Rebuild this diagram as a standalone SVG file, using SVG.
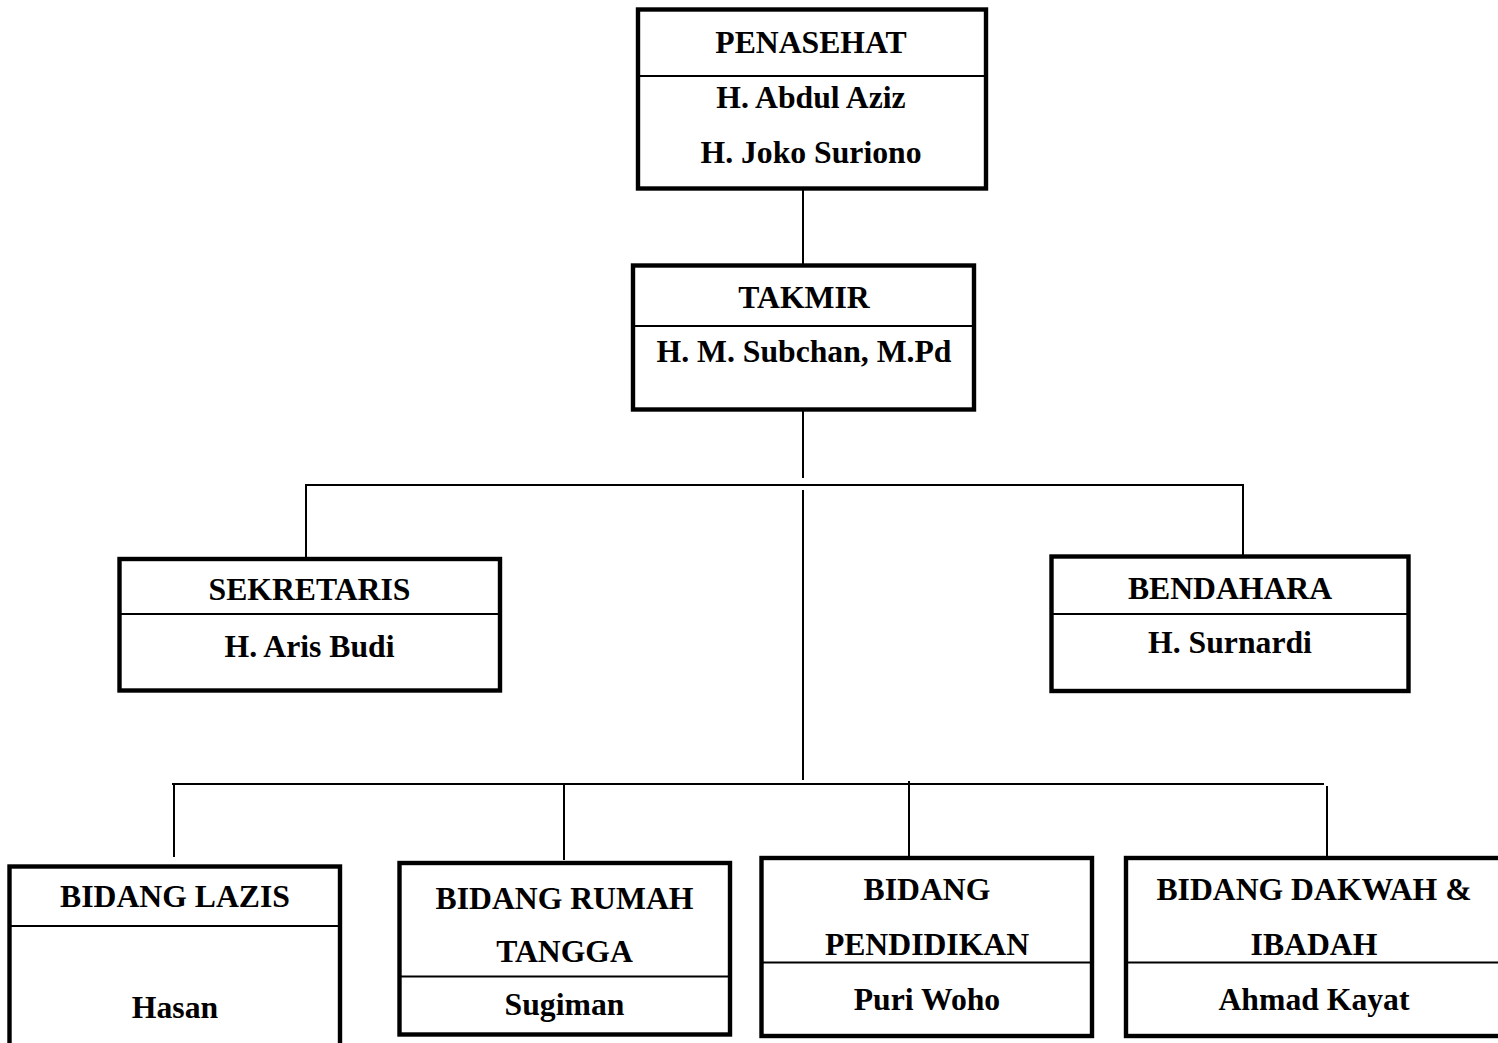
<svg xmlns="http://www.w3.org/2000/svg" width="1498" height="1043" viewBox="0 0 1498 1043">
<style>
.box{fill:#fff;stroke:#000;stroke-width:4.4}
.div{stroke:#000;stroke-width:1.8}
.con line{stroke:#000;stroke-width:2}
text{font-family:"Liberation Serif","Times New Roman",serif;font-weight:bold;font-size:31.7px;fill:#000;text-anchor:middle}
</style>
<rect width="1498" height="1043" fill="#fff"/>
<g id="connectors" class="con">
<line x1="803" y1="190" x2="803" y2="264"/>
<line x1="803" y1="405" x2="803" y2="478"/>
<line x1="305" y1="485" x2="1244" y2="485"/>
<line x1="306" y1="485" x2="306" y2="557"/>
<line x1="1243" y1="485" x2="1243" y2="555"/>
<line x1="803" y1="490" x2="803" y2="780"/>
<line x1="172" y1="784" x2="1324" y2="784"/>
<line x1="174" y1="784" x2="174" y2="857"/>
<line x1="564" y1="784" x2="564" y2="860"/>
<line x1="909" y1="781" x2="909" y2="856"/>
<line x1="1327" y1="786" x2="1327" y2="856"/>
</g>
<g id="penasehat">
<rect class="box" x="638" y="9.5" width="348" height="179"/>
<line class="div" x1="638" y1="76" x2="986" y2="76"/>
<text x="811" y="53">PENASEHAT</text>
<text x="811" y="108">H. Abdul Aziz</text>
<text x="811" y="163">H. Joko Suriono</text>
</g>
<g id="takmir">
<rect class="box" x="633" y="265.5" width="341" height="144"/>
<line class="div" x1="633" y1="326" x2="974" y2="326"/>
<text x="804" y="308">TAKMIR</text>
<text x="804" y="362">H. M. Subchan, M.Pd</text>
</g>
<g id="sekretaris">
<rect class="box" x="119.5" y="559" width="380.5" height="131.5"/>
<line class="div" x1="119.5" y1="614" x2="500" y2="614"/>
<text x="309.5" y="600">SEKRETARIS</text>
<text x="309.5" y="657">H. Aris Budi</text>
</g>
<g id="bendahara">
<rect class="box" x="1051.5" y="556.5" width="357" height="134.5"/>
<line class="div" x1="1051.5" y1="614" x2="1408.5" y2="614"/>
<text x="1230" y="599">BENDAHARA</text>
<text x="1230" y="653">H. Surnardi</text>
</g>
<g id="bidang-lazis">
<rect class="box" x="9.5" y="866.5" width="330.5" height="200"/>
<line class="div" x1="9.5" y1="926" x2="340" y2="926"/>
<text x="175" y="907">BIDANG LAZIS</text>
<text x="175" y="1018">Hasan</text>
</g>
<g id="bidang-rumah-tangga">
<rect class="box" x="399.5" y="863" width="330.5" height="171.5"/>
<line class="div" x1="399.5" y1="976.5" x2="730" y2="976.5"/>
<text x="564.5" y="909">BIDANG RUMAH</text>
<text x="564.5" y="962">TANGGA</text>
<text x="564.5" y="1015">Sugiman</text>
</g>
<g id="bidang-pendidikan">
<rect class="box" x="761.5" y="858" width="330.5" height="178"/>
<line class="div" x1="761.5" y1="962.5" x2="1092" y2="962.5"/>
<text x="927" y="900">BIDANG</text>
<text x="927" y="955">PENDIDIKAN</text>
<text x="927" y="1010">Puri Woho</text>
</g>
<g id="bidang-dakwah-ibadah">
<rect class="box" x="1126" y="858" width="378" height="178"/>
<line class="div" x1="1126" y1="962.5" x2="1504" y2="962.5"/>
<text x="1314" y="900">BIDANG DAKWAH &amp;</text>
<text x="1314" y="955">IBADAH</text>
<text x="1314" y="1010">Ahmad Kayat</text>
</g>
</svg>
